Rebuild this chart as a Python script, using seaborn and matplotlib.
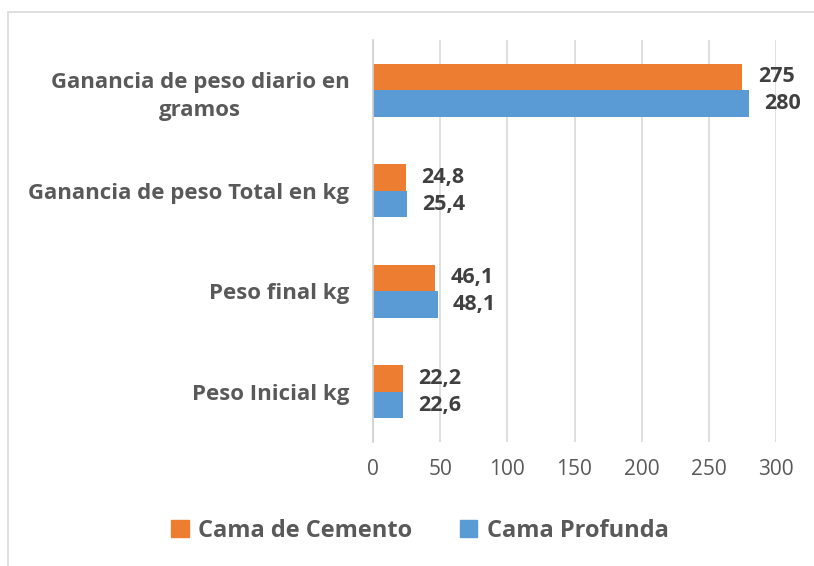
import pandas as pd
import matplotlib.pyplot as plt
import matplotlib.patches as mpatches
import seaborn as sns

categorias = ["Ganancia de peso diario en\ngramos", "Ganancia de peso Total en kg",
              "Peso final kg", "Peso Inicial kg"]
cemento = [275, 24.8, 46.1, 22.2]
profunda = [280, 25.4, 48.1, 22.6]
series = ["Cama de Cemento", "Cama Profunda"]
colores = ["#ED7D31", "#5B9BD5"]
xticks = [0, 50, 100, 150, 200, 250, 300]

df = pd.DataFrame({
    "Categoria": categorias * 2,
    "Valor": cemento + profunda,
    "Serie": [series[0]] * 4 + [series[1]] * 4,
})

sns.set_theme(style="white")
plt.rcParams['font.family'] = ['Open Sans', 'DejaVu Sans']

fig = plt.figure(figsize=(8.14, 5.66), dpi=100)
ax = fig.add_axes([373 / 814, 1 - 442 / 566, 403 / 814, 402 / 566])

sns.barplot(data=df, x="Valor", y="Categoria", hue="Serie", hue_order=series,
            palette=colores, orient="h", width=0.53, ax=ax, legend=False,
            saturation=1, edgecolor="none")

for cont, vals in zip(ax.containers, [cemento, profunda]):
    etiquetas = [f"{v:g}".replace(".", ",") for v in vals]
    ax.bar_label(cont, labels=etiquetas, padding=11, fontsize=15.5,
                 fontweight="bold", color="#404040")

ax.set_xlim(0, 300)
ax.set_xticks(xticks)
ax.set_xlabel("")
ax.set_ylabel("")
ax.grid(axis="x", color="#d9d9d9", linewidth=1.2)
ax.set_axisbelow(True)
for s in ["top", "right", "bottom"]:
    ax.spines[s].set_visible(False)
ax.spines["left"].set_color("#d0d0d0")
ax.spines["left"].set_linewidth(1.2)
ax.tick_params(axis="x", length=0, pad=12, labelsize=15, labelcolor="#595959")
ax.tick_params(axis="y", length=0, pad=17, labelsize=16, labelcolor="#595959")
for t in ax.get_yticklabels():
    t.set_fontweight("bold")
    t.set_multialignment("center")
    t.set_linespacing(1.45)

handles = [mpatches.Patch(color=c, label=s) for c, s in zip(colores, series)]
fig.legend(handles=handles, loc="center", bbox_to_anchor=(420 / 814, 1 - 531 / 566),
           ncol=2, frameon=False, handlelength=0.75, handleheight=0.75,
           handletextpad=0.4, columnspacing=2.0,
           prop={"weight": "bold", "size": 17})
for t in fig.legends[0].get_texts():
    t.set_color("#595959")

fig.patches.append(mpatches.Rectangle((8 / 814, -0.1), 1.1, 1 - 12 / 566 + 0.1,
                                      transform=fig.transFigure, fill=False,
                                      edgecolor="#d9d9d9", linewidth=1.2))

plt.savefig("out.png", dpi=100)
